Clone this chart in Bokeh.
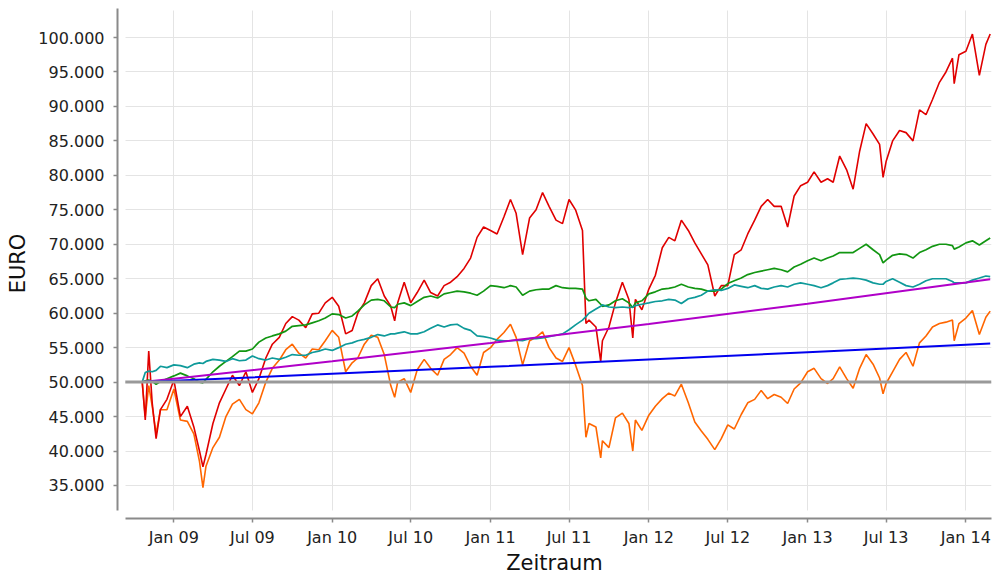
import pandas as pd
from bokeh.plotting import figure
from bokeh.models import ColumnDataSource, Range1d, FixedTicker, CustomJSTickFormatter, DatetimeTickFormatter
from bokeh.embed import file_html
from bokeh.resources import INLINE

# ---------------- data ----------------
dates = [
    # 2008
    "2008-10-20", "2008-10-27", "2008-11-04", "2008-11-12", "2008-11-21", "2008-12-01", "2008-12-16",
    # 2009
    "2009-01-01", "2009-01-16", "2009-02-01", "2009-02-16", "2009-03-01", "2009-03-09", "2009-03-16",
    "2009-04-01", "2009-04-16", "2009-05-01", "2009-05-16", "2009-06-01", "2009-06-16", "2009-07-01",
    "2009-07-16", "2009-08-01", "2009-08-16", "2009-09-01", "2009-09-16", "2009-10-01", "2009-10-16",
    "2009-11-01", "2009-11-16", "2009-12-01", "2009-12-16",
    # 2010
    "2010-01-01", "2010-01-16", "2010-02-01", "2010-02-16", "2010-03-01", "2010-03-16", "2010-04-01",
    "2010-04-16", "2010-05-01", "2010-05-16", "2010-05-25", "2010-06-01", "2010-06-16", "2010-07-01",
    "2010-07-16", "2010-08-01", "2010-08-16", "2010-09-01", "2010-09-16", "2010-10-01", "2010-10-16",
    "2010-11-01", "2010-11-16", "2010-12-01", "2010-12-16",
    # 2011
    "2011-01-01", "2011-01-16", "2011-02-01", "2011-02-16", "2011-03-01", "2011-03-16", "2011-04-01",
    "2011-04-16", "2011-05-01", "2011-05-16", "2011-06-01", "2011-06-16", "2011-07-01", "2011-07-16",
    "2011-08-01", "2011-08-09", "2011-08-16", "2011-09-01", "2011-09-12", "2011-09-16", "2011-10-01",
    "2011-10-16", "2011-11-01", "2011-11-16", "2011-11-25", "2011-12-01", "2011-12-16",
    # 2012
    "2012-01-01", "2012-01-16", "2012-02-01", "2012-02-16", "2012-03-01", "2012-03-16", "2012-04-01",
    "2012-04-16", "2012-05-01", "2012-05-16", "2012-06-01", "2012-06-16", "2012-07-01", "2012-07-16",
    "2012-08-01", "2012-08-16", "2012-09-01", "2012-09-16", "2012-10-01", "2012-10-16", "2012-11-01",
    "2012-11-16", "2012-12-01", "2012-12-16",
    # 2013
    "2013-01-01", "2013-01-16", "2013-02-01", "2013-02-16", "2013-03-01", "2013-03-16", "2013-04-01",
    "2013-04-16", "2013-05-01", "2013-05-16", "2013-06-01", "2013-06-16", "2013-06-24", "2013-07-01",
    "2013-07-16", "2013-08-01", "2013-08-16", "2013-09-01", "2013-09-16", "2013-10-01", "2013-10-16",
    "2013-11-01", "2013-11-16", "2013-12-01", "2013-12-05", "2013-12-16",
    # 2014
    "2014-01-01", "2014-01-16", "2014-02-01", "2014-02-16", "2014-02-26",
]

red = [
    50000, 44500, 54500, 47000, 41800, 46000, 47500,
    50300, 45000, 46500, 43500, 40000, 37700, 39500, 44000, 47000, 49000, 51000, 49500, 51500, 48500,
    50500, 53500, 55500, 56500, 58500, 59500, 59000, 57900, 59900, 60000, 61500,
    62300, 61000, 57000, 57500, 60000, 61500, 64000, 65000, 62500, 61000, 58900, 61500, 64500, 61500,
    63000, 64800, 63000, 62500, 64000, 64500, 65300, 66500, 68000, 71000, 72500,
    72000, 71500, 74000, 76500, 74500, 68500, 73800, 75000, 77500, 75500, 73500, 73000, 76500, 75000,
    72000, 58500, 59000, 58000, 53000, 56000, 58000, 61500, 64500, 62000, 56400, 62000, 60500,
    63500, 65500, 69500, 71000, 70500, 73500, 72000, 70200, 68600, 67000, 62500, 64000, 64000, 68500,
    69200, 71500, 73500, 75500, 76500, 75500, 75500, 72500, 77000, 78500,
    79000, 80500, 79000, 79500, 79000, 82800, 80800, 78000, 83500, 87500, 86000, 84500, 79700, 82000,
    85000, 86500, 86200, 85000, 89500, 88800, 91000, 93500, 95000, 97000, 93300, 97500,
    98000, 100500, 94500, 99000, 100500,
]

orange = [
    50000, 45000, 49500, 46500, 42500, 46000, 46000,
    49000, 44500, 44300, 42500, 38500, 34700, 37800, 40500, 42000, 45000, 46800, 47500, 46000, 45400,
    47000, 50000, 52000, 53200, 54700, 55500, 54200, 53500, 54800, 54700, 56000,
    57500, 56500, 51500, 52800, 53500, 55500, 56800, 56500, 54000, 49500, 47800, 50000, 50500, 48500,
    51800, 53300, 52000, 51000, 53300, 54000, 55000, 54200, 52300, 51000, 54300,
    55000, 56200, 57200, 58400, 56500, 52500, 56000, 56500, 57300, 55000, 53500, 53000, 55000, 52500,
    49500, 42000, 44000, 43500, 39000, 41500, 40500, 44800, 45500, 44000, 40000, 44500, 43000,
    45200, 46500, 47600, 48400, 48000, 49700, 47000, 44200, 42900, 41700, 40200, 41800, 43800, 43200,
    45300, 47000, 47500, 48800, 47600, 48200, 47800, 46900, 49000, 49900,
    51500, 52000, 50500, 49800, 50500, 52200, 50500, 49100, 52000, 54000, 52600, 50600, 48300, 49800,
    51500, 53300, 54300, 52300, 55700, 56700, 58000, 58500, 58700, 59000, 56000, 58500,
    59300, 60400, 56900, 59400, 60300,
]

green = [
    50000, 50200, 50300, 50100, 49700, 50100, 50500,
    50900, 51300, 50900, 50500, 50000, 49900, 50400, 51500, 52300, 53000, 53700, 54500, 54500, 54800,
    55800, 56400, 56700, 57000, 57400, 58100, 58200, 58300, 58600, 58900, 59300,
    59900, 59800, 59300, 59600, 60300, 61200, 61900, 62000, 61800, 60900, 60800, 61300, 61500, 61100,
    61700, 62300, 62500, 62200, 62800, 63000, 63200, 63100, 62900, 62600, 63200,
    64000, 63900, 63700, 64000, 63800, 62600, 63200, 63400, 63500, 63500, 64000, 63700, 63600, 63600,
    63500, 62200, 61800, 62000, 61300, 61000, 61200, 61800, 62100, 61500, 60800, 61500, 61800,
    62800, 63100, 63500, 63600, 63800, 64200, 63800, 63600, 63500, 63200, 63200, 63500, 64300, 64700,
    65100, 65600, 65900, 66100, 66300, 66500, 66300, 66000, 66700, 67100,
    67600, 68000, 67600, 68000, 68300, 68800, 68800, 68800, 69400, 70000, 69200, 68500, 67300, 67700,
    68400, 68600, 68500, 68000, 68800, 69200, 69700, 70000, 70000, 69800, 69300, 69600,
    70200, 70500, 69900, 70500, 70900,
]

teal = [
    50000, 51400, 51600, 51500, 51700, 52300, 52100,
    52500, 52400, 52100, 52600, 52800, 52700, 53000, 53300, 53200, 53000, 53400, 53100, 53200, 53800,
    53400, 53200, 53500, 53300, 53600, 54000, 53900, 53900, 54300, 54500, 54800,
    54600, 55000, 55500, 55700, 56000, 56200, 56500, 56900, 56700, 57000, 57000, 57100, 57300, 57000,
    57000, 57300, 57800, 58300, 58000, 58300, 58400, 57800, 57500, 56700, 56600,
    56400, 56100, 56000, 56000, 56100, 56000, 56300, 56300, 56400, 56600, 56800, 57000, 57600, 58300,
    59000, 59500, 60000, 60600, 61000, 61200, 60900, 60800, 60900, 60800, 60900, 61100, 61300,
    61500, 61700, 61800, 62000, 61900, 61400, 62100, 62300, 62600, 63200, 63400, 63300, 63600, 64100,
    63900, 63700, 64000, 63600, 63500, 63800, 64000, 63800, 64200, 64400,
    64200, 64000, 63700, 64000, 64400, 64900, 65000, 65100, 65000, 64800, 64400, 64200, 64200, 64600,
    65000, 64500, 64000, 63800, 64200, 64700, 65000, 65000, 65000, 64600, 64400, 64400,
    64400, 64800, 65100, 65400, 65300,
]

growth_dates = ["2008-10-20", "2009-01-01", "2010-01-01", "2011-01-01", "2012-01-01",
                "2013-01-01", "2014-01-01", "2014-02-26"]
magenta = [50000, 50490, 53015, 55665, 58449, 61371, 64440, 64933]
blue = [50000, 50198, 51203, 52226, 53271, 54337, 55423, 55595]

baseline = 50000

y_ticks = list(range(35000, 100001, 5000))
x_tick_dates = ["2009-01-01", "2009-07-01", "2010-01-01", "2010-07-01", "2011-01-01", "2011-07-01",
                "2012-01-01", "2012-07-01", "2013-01-01", "2013-07-01", "2014-01-01"]

n = len(dates)
assert all(len(s) == n for s in (red, orange, green, teal)), [len(s) for s in (dates, red, orange, green, teal)]

# ---------------- layout constants ----------------
def ms(s):
    return pd.Timestamp(s).value / 1e6

x_start = ms("2008-08-24")
x_end = ms("2014-03-01")
panel_start = ms("2008-09-11")
y_lo, y_hi = 30212, 104208
y_axis_lo = 31373
y_grid_hi = 103900

src = ColumnDataSource(dict(
    date=pd.to_datetime(dates), red=red, orange=orange, green=green, teal=teal))
gsrc = ColumnDataSource(dict(date=pd.to_datetime(growth_dates), magenta=magenta, blue=blue))

p = figure(width=995, height=577, x_axis_type="datetime",
           output_backend="svg", toolbar_location=None,
           x_range=Range1d(x_start, x_end), y_range=Range1d(y_lo, y_hi),
           min_border_left=117, min_border_right=4, min_border_top=8, min_border_bottom=59)
p.outline_line_color = None
p.background_fill_color = "white"
p.border_fill_color = "white"

axis_col = "#8a8a8a"
xt = FixedTicker(ticks=[ms(d) for d in x_tick_dates])
yt = FixedTicker(ticks=y_ticks)

xa = p.xaxis[0]
xa.ticker = xt
fmt = "%b %y"
xa.formatter = DatetimeTickFormatter(microseconds=fmt, milliseconds=fmt, seconds=fmt, minsec=fmt,
                                     minutes=fmt, hourmin=fmt, hours=fmt, days=fmt, months=fmt, years=fmt)
xa.bounds = (panel_start, x_end)
xa.axis_label = "Zeitraum"

ya = p.yaxis[0]
ya.ticker = yt
ya.formatter = CustomJSTickFormatter(
    code=r"return Math.round(tick).toString().replace(/\B(?=(\d{3})+(?!\d))/g, '.');")
ya.bounds = (y_axis_lo, y_hi)
ya.axis_label = "EURO"

for ax in (xa, ya):
    ax.axis_line_color = axis_col
    ax.axis_line_width = 2
    ax.major_tick_line_color = axis_col
    ax.major_tick_line_width = 1.5
    ax.major_tick_in = 0
    ax.major_tick_out = 4
    ax.minor_tick_line_color = None
    ax.major_label_text_font = "DejaVu Sans"
    ax.major_label_text_font_size = "16px"
    ax.major_label_text_color = "#222222"
    ax.axis_label_text_font = "DejaVu Sans"
    ax.axis_label_text_font_size = "21px"
    ax.axis_label_text_font_style = "normal"
    ax.axis_label_text_color = "#111111"

xa.major_label_standoff = 5
xa.axis_label_standoff = 1
ya.major_label_standoff = 9
ya.axis_label_standoff = 5

p.xgrid.ticker = xt
p.ygrid.ticker = yt
for g in (p.xgrid[0], p.ygrid[0]):
    g.grid_line_color = "#e4e4e4"
    g.grid_line_width = 1
try:
    p.xgrid[0].cross_bounds = (y_axis_lo, y_grid_hi)
    p.ygrid[0].cross_bounds = (panel_start, x_end)
except Exception:
    pass

p.line("date", "orange", source=src, line_color="#ff6600", line_width=1.6)
p.line("date", "red", source=src, line_color="#e00000", line_width=1.6)
p.line("date", "green", source=src, line_color="#129612", line_width=1.7)
p.line("date", "teal", source=src, line_color="#0e9a9a", line_width=1.7)
p.line("date", "magenta", source=gsrc, line_color="#b000c8", line_width=2)
p.line("date", "blue", source=gsrc, line_color="#0000ee", line_width=2)
p.segment(x0=[panel_start], x1=[x_end], y0=[baseline], y1=[baseline],
          line_color="#999999", line_width=3)

open("out.html", "w").write(file_html(p, INLINE))
